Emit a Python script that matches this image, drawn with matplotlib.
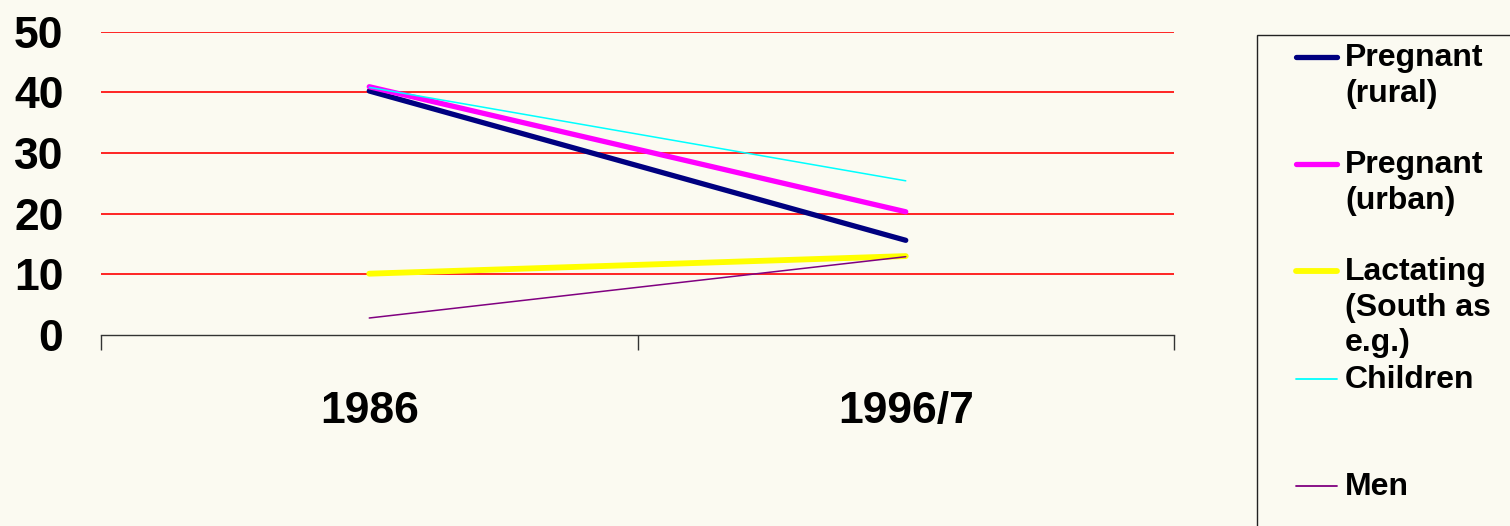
import matplotlib
matplotlib.use("Agg")
import matplotlib.pyplot as plt
from matplotlib.lines import Line2D
from matplotlib.patches import Rectangle

categories = ["1986", "1996/7"]
series_names = ["Pregnant\n(rural)", "Pregnant\n(urban)", "Lactating\n(South as\ne.g.)", "Children", "Men"]
pregnant_rural = [40.2, 15.6]
pregnant_urban = [40.9, 20.3]
lactating = [10.1, 13.0]
children = [40.8, 25.4]
men = [2.8, 12.9]
y_ticks = [0, 10, 20, 30, 40, 50]

colors = ["#000080", "#FF00FF", "#FFFF00", "#00FFFF", "#800080"]
widths = [3.8, 3.8, 4.2, 1.1, 1.1]
values = [pregnant_rural, pregnant_urban, lactating, children, men]

bg = "#FBFAF1"
plt.rcParams['font.family'] = ['Liberation Sans', 'DejaVu Sans']

fig = plt.figure(figsize=(15.1, 5.26), dpi=100, facecolor=bg)
ax = fig.add_axes([101/1510, 1-335/526, (1174-101)/1510, (335-31.5)/526])
ax.set_facecolor(bg)

x = list(range(len(categories)))
for vals, c, lw in zip(values, colors, widths):
    ax.plot(x, vals, color=c, lw=lw, solid_capstyle='round', zorder=3)

ax.set_xlim(-0.5, len(categories) - 0.5)
ax.set_ylim(0, 50)
for t in y_ticks[1:]:
    ax.axhline(t, color="#FF0000", lw=1.2, zorder=1)

for s in ["top", "right", "left"]:
    ax.spines[s].set_visible(False)
ax.spines["bottom"].set_color("#333333")
ax.spines["bottom"].set_linewidth(1.0)

ax.set_yticks(y_ticks)
ax.set_yticklabels([str(t) for t in y_ticks], fontsize=32, fontweight='bold')
ax.tick_params(axis='y', length=0, pad=27)

ax.set_xticks([i - 0.5 for i in range(len(categories) + 1)])
ax.set_xticklabels([])
ax.tick_params(axis='x', which='major', length=11, width=1.0, color="#333333", direction='out')
ax.set_xticks(x, minor=True)
ax.set_xticklabels(categories, minor=True, fontsize=32, fontweight='bold')
ax.tick_params(axis='x', which='minor', length=0, pad=40)

# Legend box (extends past the figure edge)
W, H = 1510, 526
fig.patches.append(Rectangle((1257/W, -0.1), 1.0, 1 - 35/H + 0.1, transform=fig.transFigure,
                             facecolor=bg, edgecolor="#222222", lw=1.0))
leg_y = [57, 164, 271, 379, 486]
for name, c, lw, yy in zip(series_names, colors, widths, leg_y):
    fy = 1 - yy / H
    fig.add_artist(Line2D([1296/W, 1337/W], [fy, fy], transform=fig.transFigure,
                          color=c, lw=lw if lw > 2 else 1.3, solid_capstyle='round'))
    fig.text(1345/W, 1 - (yy - 14) / H, name, fontsize=23, fontweight='bold', va='top', ha='left',
             linespacing=1.25)

fig.savefig("out.png", dpi=100, facecolor=bg)
